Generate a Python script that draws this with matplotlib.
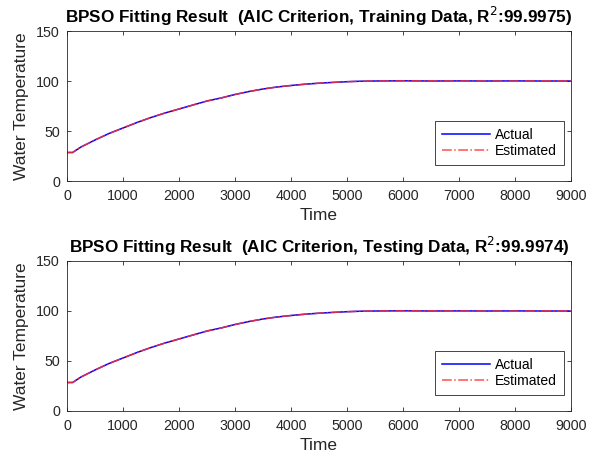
import matplotlib
matplotlib.use("Agg")
import matplotlib.pyplot as plt

plt.rcParams['font.family'] = ['Liberation Sans', 'DejaVu Sans']

time = [0, 100, 250, 500, 750, 1000, 1250, 1500, 1750, 2000, 2250, 2500, 2750, 3000,
        3250, 3500, 3750, 4000, 4250, 4500, 4750, 5000, 5250, 5500, 6000, 6500,
        7000, 7500, 8000, 8500, 9000]
train_actual = [28.5, 28.5, 34, 41, 47.5, 53, 58.5, 63.5, 68, 72, 76, 80, 83, 86.5,
                89.5, 92, 94, 95.5, 96.8, 97.8, 98.6, 99.3, 99.8, 100, 100.2, 100,
                100.1, 100, 100.1, 100, 100]
train_est = [28.5, 28.5, 34, 41, 47.5, 53, 58.5, 63.5, 68, 72, 76, 80, 83, 86.5,
             89.5, 92, 94, 95.5, 96.8, 97.8, 98.6, 99.3, 99.8, 100, 100.1, 100.1,
             100, 100, 100, 100.1, 100]
test_actual = [28.5, 28.5, 34, 41, 47.5, 53, 58.5, 63.5, 68, 72, 76, 80, 83, 86.5,
               89.5, 92, 94, 95.5, 96.8, 97.8, 98.6, 99.3, 99.8, 100, 100.2, 100,
               100.1, 100, 100.1, 100, 100]
test_est = [28.5, 28.5, 34, 41, 47.5, 53, 58.5, 63.5, 68, 72, 76, 80, 83, 86.5,
            89.5, 92, 94, 95.5, 96.8, 97.8, 98.6, 99.3, 99.8, 100, 100.1, 100.1,
            100, 100, 100, 100.1, 100]

titles = ["BPSO Fitting Result  (AIC Criterion, Training Data, R$^{2}$:99.9975)",
          "BPSO Fitting Result  (AIC Criterion, Testing Data, R$^{2}$:99.9974)"]
xticks = [0, 1000, 2000, 3000, 4000, 5000, 6000, 7000, 8000, 9000]
yticks = [0, 50, 100, 150]

fig = plt.figure(figsize=(5.95, 4.59), dpi=100)
W, H = 595, 459
boxes = [(67, 31, 571, 181), (67, 261, 571, 411)]
series = [(train_actual, train_est), (test_actual, test_est)]
tc = '#262626'
for (l, t, r, b), (act, est), ttl in zip(boxes, series, titles):
    ax = fig.add_axes([l / W, 1 - b / H, (r - l) / W, (b - t) / H])
    ax.plot(time, act, color='#0000ff', lw=1.1, label='Actual')
    ax.plot(time, est, color='#ff3030', lw=1.1, ls='-.', label='Estimated', alpha=0.85)
    ax.set_xlim(0, 9000)
    ax.set_ylim(0, 150)
    ax.set_xticks(xticks)
    ax.set_yticks(yticks)
    ax.tick_params(direction='in', top=True, right=True, labelsize=10.3, colors=tc,
                   length=3, width=0.6)
    ax.tick_params(axis='x', pad=6)
    ax.tick_params(axis='y', pad=5)
    for s in ax.spines.values():
        s.set_color(tc)
        s.set_linewidth(0.6)
    ax.set_xlabel('Time', fontsize=12.5, color=tc, labelpad=3)
    ax.set_ylabel('Water Temperature', fontsize=12.5, color=tc, labelpad=5)
    ax.set_title(ttl, fontsize=12.3, fontweight='bold', pad=6)
    leg = ax.legend(loc='lower right', bbox_to_anchor=(0.986, 0.107), borderaxespad=0,
                    fontsize=10, handlelength=3.5, handletextpad=0.35, fancybox=False,
                    edgecolor=tc, framealpha=1, borderpad=0.5, labelspacing=0.15)
    leg.get_frame().set_linewidth(0.6)

fig.savefig('out.png', dpi=100)
